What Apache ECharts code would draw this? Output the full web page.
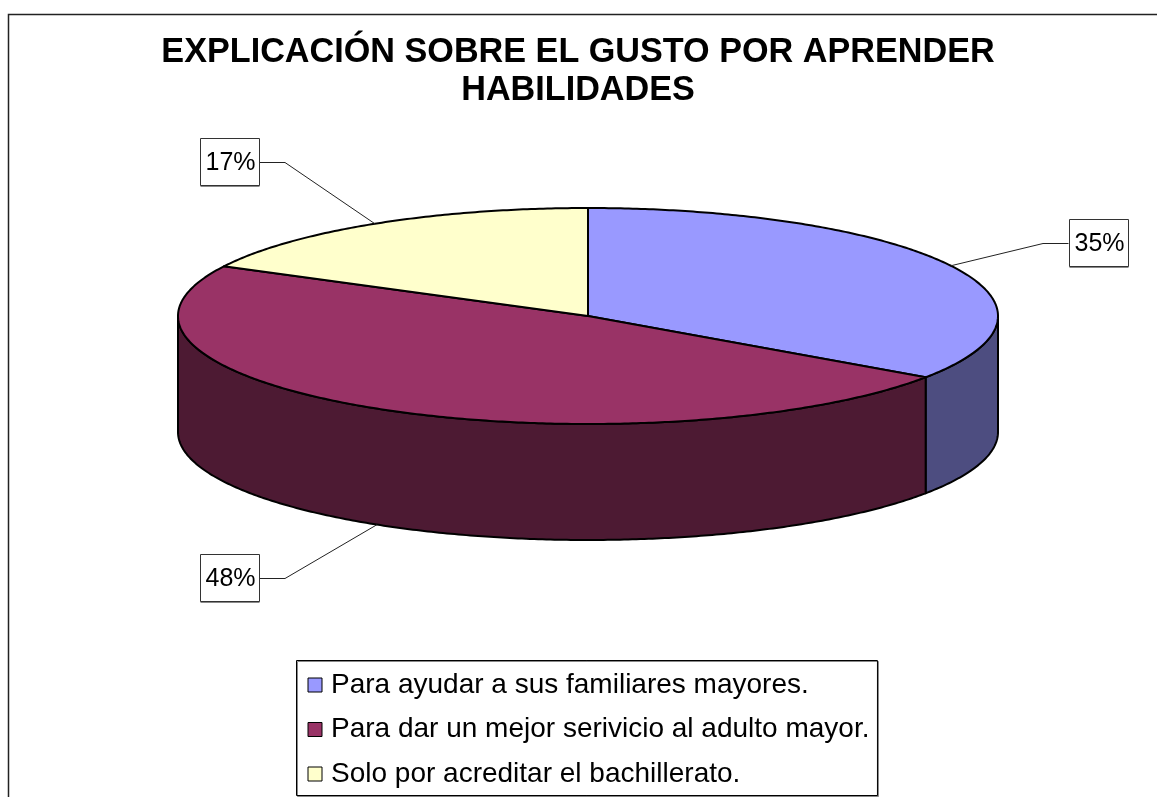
<!DOCTYPE html>
<html><head><meta charset="utf-8">
<style>html,body{margin:0;padding:0;background:#fff}#c{width:1157px;height:797px}</style>
<script src="https://cdn.jsdelivr.net/npm/echarts@6/dist/echarts.min.js"></script>
</head><body><div id="c"></div>
<script>
const titleText = 'EXPLICACIÓN SOBRE EL GUSTO POR APRENDER\nHABILIDADES';
const categories = ['Para ayudar a sus familiares mayores.','Para dar un mejor serivicio al adulto mayor.','Solo por acreditar el bachillerato.'];
const values = [34.6, 48.0, 17.4];
const topColors = ['#9999FF', '#993366', '#FFFFCC'];
const wallColors = ['#4D4D80', '#4D1A33', '#808066'];
// layout of the tilted pie
const cx = 588, cy = 316, rx = 410, ry = 108, depth = 116;
// label box centre and leader elbow, for each slice
const labelBoxes = [[1098.5, 243], [229.5, 578], [229.5, 162]];
const elbows = [[1043, 243], [285, 578], [285, 162]];
const total = values.reduce((a, b) => a + b, 0);
const fractionBefore = i => values.slice(0, i).reduce((a, b) => a + b, 0) / total;
const pt = (t, dy) => [cx + rx * Math.sin(t), cy - ry * Math.cos(t) + (dy || 0)];
const arc = (a, b, dy) => {
  const n = Math.max(2, Math.ceil(Math.abs(b - a) / 0.01)), out = [];
  for (let k = 0; k <= n; k++) out.push(pt(a + (b - a) * k / n, dy));
  return out;
};
const outline = {stroke: '#000', lineWidth: 2, lineJoin: 'round'};

function renderSlice(i) {
  return function () {
    const a = fractionBefore(i) * 2 * Math.PI, b = fractionBefore(i + 1) * 2 * Math.PI;
    const mid = (a + b) / 2, kids = [];
    // front wall: the part of the rim with angles between 90 and 270 degrees
    const wa = Math.max(a, Math.PI / 2), wb = Math.min(b, 1.5 * Math.PI);
    if (wb > wa) {
      kids.push({type: 'polygon', shape: {points: arc(wa, wb, 0).concat(arc(wb, wa, depth))},
        style: Object.assign({fill: wallColors[i]}, outline)});
    }
    kids.push({type: 'polygon', shape: {points: [[cx, cy]].concat(arc(a, b, 0))},
      style: Object.assign({fill: topColors[i]}, outline)});
    // leader line anchored on the slice's mid angle
    const front = Math.cos(mid) < 0;
    const anchor = pt(mid, front ? depth : 0), box = labelBoxes[i], elbow = elbows[i];
    const side = box[0] < cx ? 30 : -30;
    kids.push({type: 'polyline', shape: {points: [anchor, [elbow[0], elbow[1] + 0.5], [box[0] + side, box[1] + 0.5]]},
      style: {stroke: '#222', lineWidth: 1, fill: null}});
    kids.push({type: 'rect', shape: {x: box[0] - 29, y: box[1] - 23, width: 59, height: 48},
      style: {fill: '#888', stroke: null}});
    kids.push({type: 'rect', shape: {x: box[0] - 29, y: box[1] - 23.5, width: 59, height: 47},
      style: {fill: '#fff', stroke: '#333', lineWidth: 1}});
    kids.push({type: 'text', style: {x: box[0] + 1, y: box[1] + 1, text: Math.round(values[i]) + '%', align: 'center', verticalAlign: 'middle',
      fill: '#000', font: '25px "Liberation Sans"'}});
    return {type: 'group', children: kids};
  };
}

const chart = echarts.init(document.getElementById('c'), null, {renderer: 'canvas'});
chart.setOption({
  animation: false,
  backgroundColor: '#fff',
  title: {text: titleText, left: 573, top: 29, textAlign: 'center',
    textStyle: {fontFamily: 'Liberation Sans', fontWeight: 'bold', fontSize: 34.2, lineHeight: 38, color: '#000'}},
  legend: {
    orient: 'vertical', left: 296.5, top: 660.5, padding: [10.5, 8, 7.5, 11], itemGap: 16.5,
    itemWidth: 14, itemHeight: 14, icon: 'rect', backgroundColor: '#fff', borderColor: '#000', borderWidth: 1,
    shadowColor: '#888', shadowBlur: 0, shadowOffsetX: 1, shadowOffsetY: 1,
    itemStyle: {borderColor: '#000', borderWidth: 1},
    textStyle: {fontFamily: 'Liberation Sans', fontSize: 28, color: '#000', padding: [0, 0, 0, 4]},
    data: categories
  },
  graphic: [{type: 'rect', silent: true, z: -1, shape: {x: 8.5, y: 14.5, width: 1300, height: 1000},
    style: {fill: 'none', stroke: '#222', lineWidth: 1.5}}],
  series: categories.map((name, i) => ({
    type: 'custom', name, coordinateSystem: 'none', itemStyle: {color: topColors[i]},
    data: [values[i]], renderItem: renderSlice(i), silent: true, z: 2
  }))
});
</script></body></html>
